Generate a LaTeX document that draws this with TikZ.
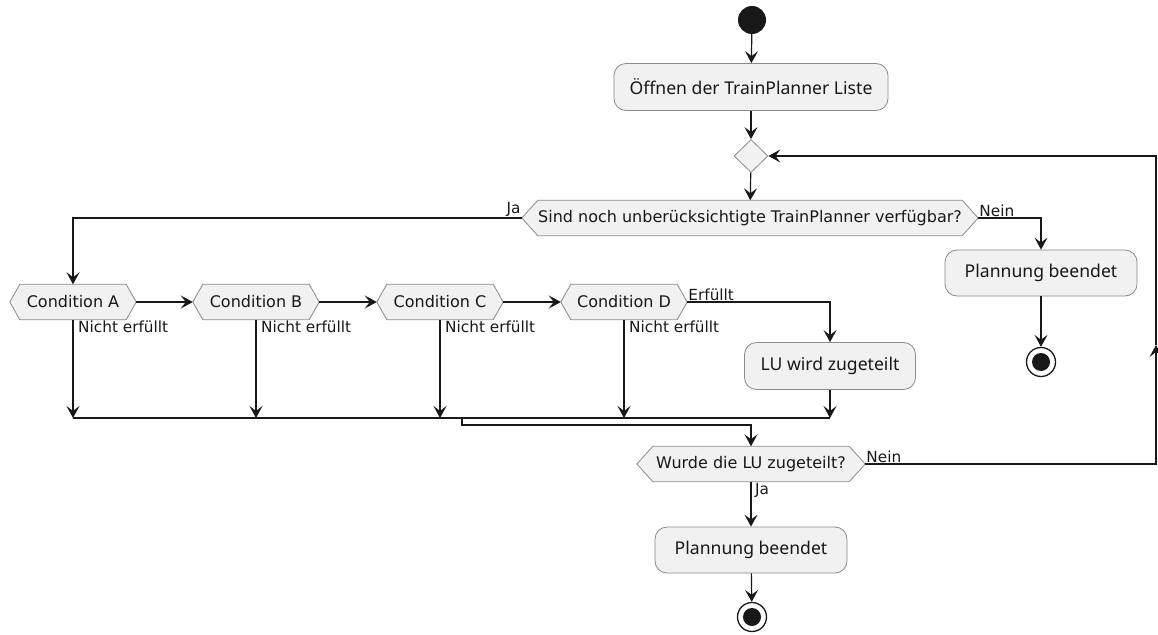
\documentclass[tikz,border=0pt]{standalone}
\usepackage{fontspec}
\setmainfont{DejaVu Sans}
\newfontfamily\boxfont{Noto Sans}
\usetikzlibrary{arrows.meta,shapes.geometric,backgrounds}
\definecolor{ink}{HTML}{181818}
\definecolor{shade}{HTML}{F1F1F1}
\definecolor{rim}{HTML}{8A8A8A}
% hexagonal decision frame drawn behind a named label node; optional argument = point depth
\newcommand\hexframe[2][16pt]{%
  \begin{scope}[on background layer]
    \path[hexfill] (#2.west) -- ([xshift=#1]#2.north west) -- ([xshift=-#1]#2.north east)
      -- (#2.east) -- ([xshift=-#1]#2.south east) -- ([xshift=#1]#2.south west) -- cycle;
  \end{scope}}
\begin{document}
\begin{tikzpicture}[x=1pt,y=-1pt,
  flow/.style={draw=ink, line width=1.2pt, -{Stealth[length=12pt,width=13pt,inset=5pt]}},
  wire/.style={draw=ink, line width=1.2pt},
  action/.style={draw=rim, fill=shade, rounded corners=12pt, line width=0.8pt,
    font=\boxfont\fontsize{17.6}{20}\selectfont, text=ink, inner sep=0, minimum height=47pt},
  hexlabel/.style={inner sep=0, minimum height=35pt, text=ink, font=\fontsize{16}{18}\selectfont},
  hexfill/.style={draw=rim, fill=shade, line width=0.8pt},
  tag/.style={inner sep=1pt, text=ink, font=\fontsize{15.3}{17}\selectfont},
  startdot/.style={circle, fill=ink, minimum size=28pt, inner sep=0},
  stopdot/.style={circle, draw=ink, line width=1.3pt, fill=white, minimum size=29pt, inner sep=0,
    path picture={\fill[ink] (path picture bounding box.center) circle (9pt);}},
  merge/.style={diamond, draw=rim, fill=shade, line width=0.8pt, minimum width=34pt, minimum height=33pt, inner sep=0}
]
\useasboundingbox (0,0) rectangle (1158,634);
\begin{scope}[on background layer]
  \fill[white] (0,0) rectangle (1158,634);
\end{scope}

% main column
\node[startdot] (start) at (752,20) {};
\node[action, minimum width=274pt] (open) at (751,87) {Öffnen der TrainPlanner Liste};
\node[merge] (merge) at (751,156) {};
\node[hexlabel, minimum width=456pt] (avail) at (750,218) {Sind noch unberücksichtigte TrainPlanner verfügbar?};
\hexframe{avail}

% right branch
\node[action, minimum width=192pt, minimum height=46pt] (doneR) at (1041,273) {Plannung beendet};
\node[stopdot] (stopR) at (1041,362) {};

% condition chain
\node[hexlabel, minimum width=126pt] (condA) at (73,302) {Condition A};
\node[hexlabel, minimum width=126pt] (condB) at (256,302) {Condition B};
\node[hexlabel, minimum width=126pt] (condC) at (440,302) {Condition C};
\node[hexlabel, minimum width=126pt] (condD) at (624,302) {Condition D};
\hexframe[10pt]{condA}\hexframe[10pt]{condB}\hexframe[10pt]{condC}\hexframe[10pt]{condD}
\node[action, minimum width=171pt] (lu) at (830,366) {LU wird zugeteilt};

% second decision and end
\node[hexlabel, minimum width=228pt] (given) at (751,464) {Wurde die LU zugeteilt?};
\hexframe{given}
\node[action, minimum width=192pt, minimum height=46pt] (doneB) at (751,550) {Plannung beendet};
\node[stopdot] (stopB) at (752,617) {};

% join and loop points
\coordinate (jA) at (73,418);
\coordinate (jB) at (256,418);
\coordinate (jC) at (440,418);
\coordinate (jD) at (624,418);
\coordinate (jL) at (830,418);
\coordinate (jMid) at (462,418);
\coordinate (jDrop) at (462,425);
\coordinate (jTurn) at (751,425);
\coordinate (loopLow) at (1156,464);
\coordinate (loopUp) at (1156,345);
\coordinate (loopTop) at (1156,156);

% connectors
\draw[flow] (start) -- (open);
\draw[flow] (open) -- (merge);
\draw[flow] (merge) -- (avail);
\draw[flow] (avail.west) -| (condA.north);
\draw[flow] (avail.east) -| (doneR.north);
\draw[flow] (doneR) -- (stopR);
\draw[flow] (condA.east) -- (condB.west);
\draw[flow] (condB.east) -- (condC.west);
\draw[flow] (condC.east) -- (condD.west);
\draw[flow] (condD.east) -| (lu.north);
\draw[flow] (condA.south) -- (jA);
\draw[flow] (condB.south) -- (jB);
\draw[flow] (condC.south) -- (jC);
\draw[flow] (condD.south) -- (jD);
\draw[flow] (lu) -- (jL);
\draw[wire] (jA) -- (jL);
\draw[flow] (jMid) -- (jDrop) -- (jTurn) -- (given.north);
\draw[flow] (given) -- (doneB);
\draw[flow] (doneB) -- (stopB);
\draw[flow] (loopUp) -- (loopTop) -- (merge.east);
\draw[flow] (given.east) -- (loopLow) -- (loopUp);

% branch labels
\node[tag, anchor=south east] (tagJa) at (avail.west) {Ja};
\node[tag, anchor=south west] (tagNein) at (avail.east) {Nein};
\node[tag, anchor=north west] (tagA) at ([xshift=4pt]condA.south) {Nicht erfüllt};
\node[tag, anchor=north west] (tagB) at ([xshift=4pt]condB.south) {Nicht erfüllt};
\node[tag, anchor=north west] (tagC) at ([xshift=4pt]condC.south) {Nicht erfüllt};
\node[tag, anchor=north west] (tagD) at ([xshift=4pt]condD.south) {Nicht erfüllt};
\node[tag, anchor=south west] (tagYes) at (condD.east) {Erfüllt};
\node[tag, anchor=south west] (tagNo) at (given.east) {Nein};
\node[tag, anchor=north west] (tagJa2) at ([xshift=3pt]given.south) {Ja};
\end{tikzpicture}
\end{document}
